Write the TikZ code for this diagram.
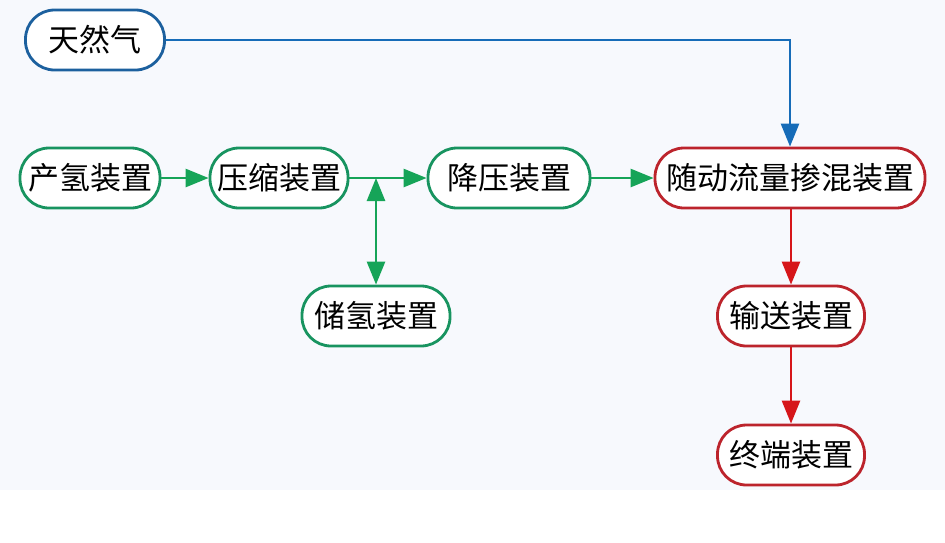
\documentclass[tikz,border=0pt]{standalone}
\usepackage{fontspec}
\setmainfont{Noto Sans CJK SC}
\usepackage{tikz}
\usetikzlibrary{
  arrows.meta,
  positioning,
  calc
}
\definecolor{gasblue}{RGB}{28,96,158}
\definecolor{gasarrow}{RGB}{22,108,184}
\definecolor{hgreen}{RGB}{24,148,96}
\definecolor{harrow}{RGB}{22,164,88}
\definecolor{mixred}{RGB}{188,36,44}
\definecolor{mixarrow}{RGB}{214,22,26}
\definecolor{panel}{RGB}{247,249,253}

\begin{document}
\begin{tikzpicture}[
  x=1pt, y=-1pt,
  pill/.style={draw, line width=2.8pt, rounded corners=29pt, fill=white,
    minimum height=60pt, inner xsep=6pt, font=\fontsize{31}{32}\selectfont},
  gas/.style={pill, draw=gasblue},
  hyd/.style={pill, draw=hgreen},
  mix/.style={pill, draw=mixred},
  arr/.style={-{Triangle[length=23pt,width=18pt]}, line width=2.6pt}
]
\useasboundingbox (0,0) rectangle (945,542);
\fill[panel] (0,0) rectangle (945,490);

% Top: natural gas
\node[gas, minimum width=139pt] (gas) at (95,40) {天然气};

% Hydrogen line
\node[hyd, minimum width=140pt] (make) at (90,178) {产氢装置};
\node[hyd, minimum width=138pt] (press) at (279,178) {压缩装置};
\node[hyd, minimum width=162pt] (relief) at (509,178) {降压装置};
\node[hyd, minimum width=148pt] (store) at (376,316) {储氢装置};

% Mixing and delivery
\node[mix, minimum width=270pt] (mixer) at (790,178) {随动流量掺混装置};
\node[mix, minimum width=147pt] (trans) at (791,316) {输送装置};
\node[mix, minimum width=147pt] (user) at (791,455) {终端装置};

\coordinate (j) at (store.north |- press.east);

% Arrows
\draw[arr, draw=gasarrow] (gas.east) -| (mixer.north);
\draw[arr, draw=harrow] (make) -- (press);
\draw[arr, draw=harrow] (press) -- (relief);
\draw[arr, {Triangle[length=23pt,width=18pt]}-{Triangle[length=23pt,width=18pt]}, draw=harrow] (j) -- (store.north);
\draw[arr, draw=harrow] (relief) -- (mixer);
\draw[arr, draw=mixarrow] (mixer.south -| trans.north) -- (trans.north);
\draw[arr, draw=mixarrow] (trans) -- (user);

\end{tikzpicture}
\end{document}
